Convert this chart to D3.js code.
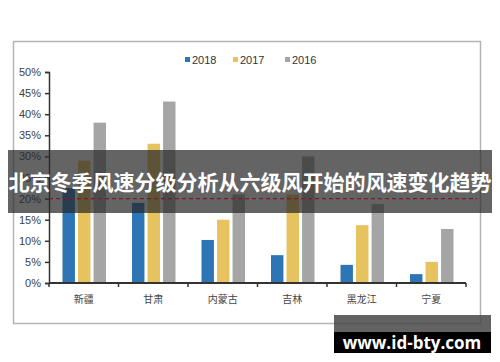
<!DOCTYPE html>
<html>
<head>
<meta charset="utf-8">
<script src="https://cdn.jsdelivr.net/npm/d3@7"></script>
<style>
  html, body { margin: 0; padding: 0; background: #fff; }
  svg { display: block; }
</style>
</head>
<body>
<svg id="chart" width="500" height="362"></svg>
<script>
// Chart data
const categories = ['新疆', '甘肃', '内蒙古', '吉林', '黑龙江', '宁夏'];
const seriesNames = ['2018', '2017', '2016'];
const values2018 = [0.225, 0.19, 0.102, 0.066, 0.043, 0.021];
const values2017 = [0.29, 0.33, 0.15, 0.21, 0.137, 0.05];
const values2016 = [0.38, 0.43, 0.21, 0.30, 0.187, 0.128];
const yTicks = [0, 0.05, 0.1, 0.15, 0.2, 0.25, 0.3, 0.35, 0.4, 0.45, 0.5];
const refValue = 0.2;
const title = '北京冬季风速分级分析从六级风开始的风速变化趋势';
const watermark = 'www.id-bty.com';

const color = { '2018': '#2e75b6', '2017': '#e6c35e', '2016': '#a5a5a5' };
const seriesValues = { '2018': values2018, '2017': values2017, '2016': values2016 };

const svg = d3.select('#chart').style('font-family', 'Liberation Sans, Arial, sans-serif');

const padding = { top: 72, right: 34, bottom: 79, left: 49 };
const width = 500 - padding.left - padding.right;
const height = 362 - padding.top - padding.bottom;

// Outer frame around the chart
svg
  .append('rect')
  .attr('x', 13.5)
  .attr('y', 41.5)
  .attr('width', 467)
  .attr('height', 282)
  .attr('fill', 'none')
  .attr('stroke', '#b4b4b4')
  .attr('stroke-width', 1.5);

const canvas = svg.append('g').attr('transform', `translate(${padding.left}, ${padding.top})`);

const x0 = d3.scaleBand().domain(categories).range([0, width]);
const x1 = d3
  .scaleBand()
  .domain(seriesNames)
  .range([13.5, 57])
  .paddingInner(0.2);
const y = d3.scaleLinear().domain([0, 0.5]).range([height, 0]);

// Bars
const groups = canvas
  .selectAll('g.group')
  .data(categories)
  .join('g')
  .attr('class', 'group')
  .attr('transform', d => `translate(${x0(d)}, 0)`);

groups
  .selectAll('rect')
  .data((d, i) => seriesNames.map(s => ({ s, v: seriesValues[s][i] })))
  .join('rect')
  .attr('x', d => x1(d.s))
  .attr('width', x1.bandwidth())
  .attr('y', d => y(d.v))
  .attr('height', d => height - y(d.v))
  .attr('fill', d => color[d.s]);

// Y axis
const yAxis = canvas.append('g').call(
  d3
    .axisLeft(y)
    .tickValues(yTicks)
    .tickFormat(d3.format('.0%'))
    .tickSize(4)
    .tickPadding(4)
);
yAxis.select('.domain').attr('stroke', '#333').attr('stroke-width', 1.5);
yAxis.selectAll('.tick line').attr('stroke', '#333').attr('stroke-width', 1.5);
yAxis
  .selectAll('.tick text')
  .attr('font-size', 11)
  .attr('fill', '#404040')
  .attr('font-family', 'Liberation Sans, Arial, sans-serif');

// X axis: line, boundary ticks and labels
const xAxis = canvas.append('g').attr('transform', `translate(0, ${height})`);
xAxis
  .append('line')
  .attr('x1', 0)
  .attr('x2', width)
  .attr('stroke', '#333')
  .attr('stroke-width', 2);
xAxis
  .selectAll('line.tick')
  .data(categories.map(c => x0(c)).concat([width]))
  .join('line')
  .attr('class', 'tick')
  .attr('x1', d => d)
  .attr('x2', d => d)
  .attr('y1', 0)
  .attr('y2', 4)
  .attr('stroke', '#333')
  .attr('stroke-width', 1.5);
xAxis
  .selectAll('text')
  .data(categories)
  .join('text')
  .attr('x', d => x0(d) + x0.bandwidth() / 2)
  .attr('y', 20)
  .attr('text-anchor', 'middle')
  .attr('font-size', 10)
  .attr('font-family', 'Noto Sans CJK SC, sans-serif')
  .attr('fill', '#444')
  .text(d => d);

// Legend
const legendX = [185, 233, 285];
const legend = svg
  .selectAll('g.legend')
  .data(seriesNames)
  .join('g')
  .attr('class', 'legend')
  .attr('transform', (d, i) => `translate(${legendX[i]}, 60)`);
legend
  .append('rect')
  .attr('y', -3)
  .attr('width', 5)
  .attr('height', 5)
  .attr('fill', d => color[d]);
legend
  .append('text')
  .attr('x', 7)
  .attr('y', 4)
  .attr('font-size', 11)
  .attr('fill', '#333')
  .text(d => d);

// Dark banner with the title laid over the chart
svg
  .append('rect')
  .attr('x', 8)
  .attr('y', 150)
  .attr('width', 484)
  .attr('height', 63)
  .attr('fill', 'rgba(40, 40, 40, 0.72)');

// Dashed reference line (over the banner, as in the picture)
svg
  .append('line')
  .attr('x1', padding.left)
  .attr('x2', 477)
  .attr('y1', padding.top + y(refValue))
  .attr('y2', padding.top + y(refValue))
  .attr('stroke', '#7a1a2a')
  .attr('stroke-width', 1.2)
  .attr('stroke-dasharray', '4,3');

svg
  .append('text')
  .attr('x', 250)
  .attr('y', 190)
  .attr('text-anchor', 'middle')
  .attr('font-size', 21)
  .attr('font-weight', 'bold')
  .attr('font-family', 'Noto Sans CJK SC, sans-serif')
  .attr('fill', '#fff')
  .text(title);

// Watermark, bottom right
svg
  .append('rect')
  .attr('x', 334)
  .attr('y', 315)
  .attr('width', 157)
  .attr('height', 17)
  .attr('fill', 'rgba(70, 70, 70, 0.85)');
svg
  .append('rect')
  .attr('x', 334)
  .attr('y', 332)
  .attr('width', 157)
  .attr('height', 21)
  .attr('fill', '#000');
svg
  .append('text')
  .attr('x', 412)
  .attr('y', 349)
  .attr('text-anchor', 'middle')
  .attr('font-size', 17)
  .attr('font-weight', 'bold')
  .attr('font-family', 'Open Sans, DejaVu Sans, sans-serif')
  .attr('fill', '#fff')
  .text(watermark);
</script>
</body>
</html>
